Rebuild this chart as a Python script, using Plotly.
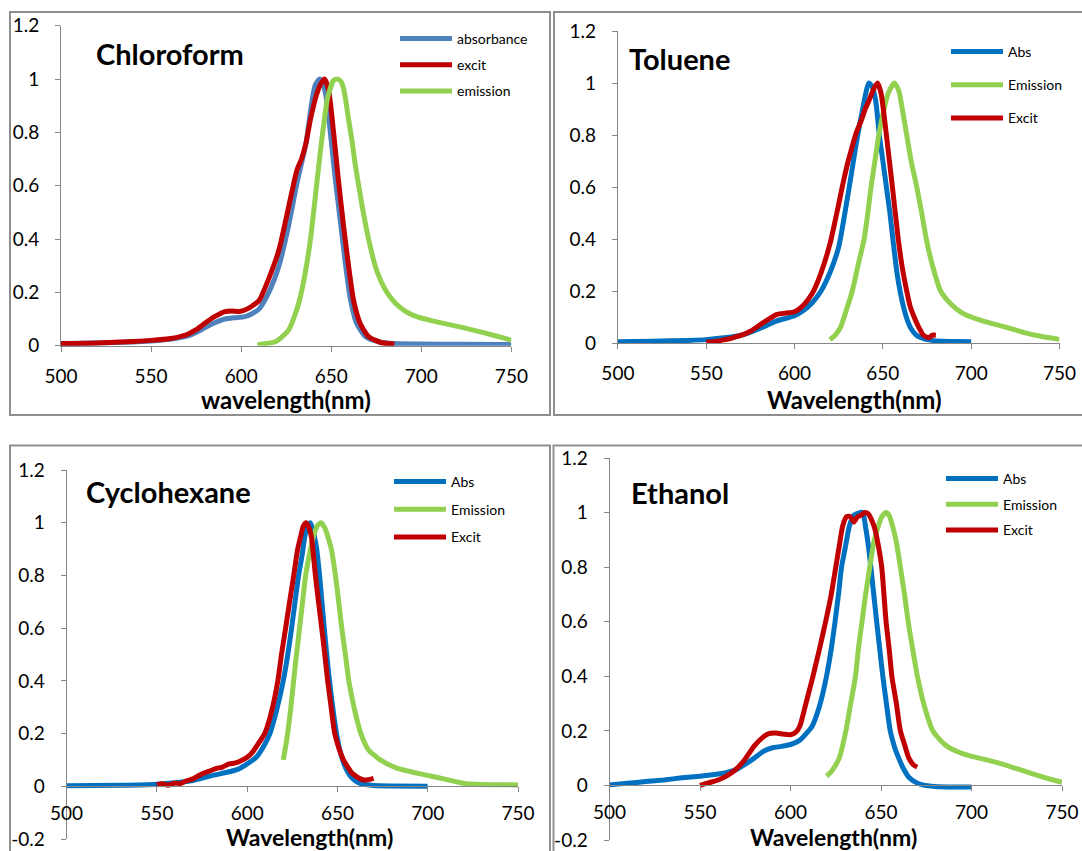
import plotly.graph_objects as go

# ---------------- Chloroform ----------------
chcl3_abs_nm = [500, 520, 540, 550, 560, 570, 575, 580, 585, 591, 596, 602, 606, 610, 615, 621, 626, 631, 636,
                638.5, 641, 643.5, 645, 647, 649.5, 652, 655, 658, 660.5, 664, 669, 676, 685, 700, 720, 750]
chcl3_abs = [0.008, 0.01, 0.014, 0.018, 0.024, 0.036, 0.05, 0.068, 0.085, 0.10, 0.105, 0.109, 0.12, 0.138, 0.195,
             0.30, 0.44, 0.61, 0.76, 0.88, 0.975, 1.0, 0.99, 0.94, 0.80, 0.64, 0.47, 0.30, 0.18, 0.085, 0.034,
             0.015, 0.008, 0.006, 0.005, 0.004]

chcl3_exc_nm = [500, 520, 540, 550, 560, 570, 575, 580, 585, 591, 595, 599, 604, 610, 615, 621, 626, 631, 633.5,
                636, 638.5, 642, 644.5, 646.3, 648.5, 651.3, 654, 657, 659.6, 662.4, 666, 670.7, 678, 685]
chcl3_exc = [0.008, 0.01, 0.016, 0.02, 0.026, 0.042, 0.06, 0.085, 0.108, 0.128, 0.13, 0.128, 0.14, 0.17, 0.246,
             0.36, 0.51, 0.66, 0.70, 0.76, 0.85, 0.945, 0.985, 1.0, 0.96, 0.80, 0.62, 0.44, 0.30, 0.17, 0.084,
             0.034, 0.011, 0.006]

chcl3_em_nm = [609, 614, 619, 623, 626.5, 629, 632, 634.5, 636.5, 638.5, 640.2, 642, 644, 646, 648, 651.3, 653.5,
               655.5, 657, 659.6, 661.5, 663.3, 667, 670.7, 675.3, 680, 685.5, 691, 697, 705, 715, 725, 735, 745,
               750]
chcl3_em = [0.003, 0.008, 0.015, 0.035, 0.06, 0.1, 0.16, 0.235, 0.31, 0.4, 0.5, 0.61, 0.73, 0.84, 0.93, 0.995, 1.0,
            0.99, 0.96, 0.85, 0.77, 0.68, 0.53, 0.40, 0.28, 0.21, 0.16, 0.13, 0.11, 0.095, 0.08, 0.065, 0.048,
            0.03, 0.02]

# ---------------- Toluene ----------------
tol_abs_nm = [500, 520, 540, 550, 560, 570, 580, 590, 600, 605, 610, 615, 620, 625, 630, 635, 638, 640, 642, 644,
              646, 648, 650, 652, 654, 656, 658, 660, 662, 664, 666, 669, 672, 676, 680, 690, 700]
tol_abs = [0.005, 0.007, 0.01, 0.013, 0.02, 0.03, 0.055, 0.085, 0.105, 0.125, 0.155, 0.2, 0.27, 0.37, 0.56, 0.77,
           0.88, 0.95, 1.0, 0.985, 0.93, 0.80, 0.70, 0.6, 0.5, 0.38, 0.27, 0.19, 0.13, 0.085, 0.055, 0.03, 0.02,
           0.012, 0.008, 0.006, 0.005]

tol_em_nm = [620, 623, 626, 629, 632.7, 636, 639.4, 641.5, 643.3, 645.5, 647.7, 650, 653, 656.5, 659, 661, 663.5,
             666, 669.2, 672, 674.6, 678, 682.7, 688.5, 695, 700, 710, 720, 730, 740, 750]
tol_em = [0.013, 0.03, 0.06, 0.12, 0.2, 0.3, 0.4, 0.5, 0.6, 0.7, 0.8, 0.88, 0.96, 1.0, 0.97, 0.9, 0.8, 0.7, 0.6,
          0.5, 0.4, 0.3, 0.2, 0.15, 0.115, 0.1, 0.078, 0.06, 0.04, 0.025, 0.014]

tol_exc_nm = [550, 555, 560, 565, 570, 575, 580, 585, 590, 595, 600, 605, 610, 615, 620, 623, 627, 630, 632, 635,
              638, 640, 642, 645, 647, 649, 652, 655.4, 658.7, 661, 663.5, 665.5, 667.7, 670, 673, 676, 678, 680]
tol_exc = [0.003, 0.006, 0.012, 0.02, 0.03, 0.045, 0.068, 0.09, 0.11, 0.115, 0.12, 0.145, 0.19, 0.27, 0.38, 0.47,
           0.6, 0.69, 0.74, 0.81, 0.86, 0.9, 0.93, 0.98, 1.0, 0.96, 0.8, 0.6, 0.4, 0.29, 0.2, 0.14, 0.1, 0.065,
           0.03, 0.02, 0.03, 0.03]

# ---------------- Cyclohexane ----------------
chx_abs_nm = [500, 530, 550, 570, 580, 590, 595, 600, 605, 609, 612.6, 616, 620, 622.5, 624.6, 626.5, 628.5, 630.5,
              632, 633.5, 635, 636.5, 638.5, 640.1, 642.7, 645.6, 649.5, 652, 654.5, 657, 660, 663, 670, 680, 700]
chx_abs = [0.002, 0.004, 0.008, 0.022, 0.04, 0.055, 0.065, 0.085, 0.11, 0.15, 0.2, 0.28, 0.4, 0.5, 0.6, 0.7, 0.8,
           0.88, 0.95, 0.985, 1.0, 0.97, 0.9, 0.8, 0.6, 0.4, 0.2, 0.12, 0.07, 0.04, 0.02, 0.01, 0.003, 0.001, 0.0]

chx_em_nm = [620, 622, 624.2, 626.5, 629, 630.7, 632.4, 634.5, 636.8, 639, 641, 643, 645, 646.6, 648.9, 650.7,
             652.4, 654.4, 656.3, 659.5, 663, 667, 673.7, 682.5, 694, 707.7, 721, 730, 740, 750]
chx_em = [0.1, 0.18, 0.3, 0.45, 0.6, 0.7, 0.8, 0.88, 0.95, 0.99, 1.0, 0.98, 0.94, 0.9, 0.8, 0.7, 0.6, 0.5, 0.4,
          0.29, 0.2, 0.14, 0.1, 0.07, 0.05, 0.03, 0.01, 0.007, 0.006, 0.005]

chx_exc_nm = [550, 553, 556, 560, 563, 566, 570, 573, 576, 580, 583, 586, 590, 593, 596, 600, 603, 606, 609.7, 613,
              617, 619, 621.3, 623.5, 625.8, 628, 629.7, 631, 632.6, 634, 635.5, 637.8, 639.5, 641.3, 643, 644.6,
              646.5, 648.5, 651, 653.3, 656, 658, 661, 664, 667, 670]
chx_exc = [0.005, 0.01, 0.004, 0.012, 0.01, 0.02, 0.028, 0.04, 0.05, 0.06, 0.068, 0.072, 0.085, 0.088, 0.095, 0.11,
           0.13, 0.16, 0.2, 0.27, 0.4, 0.5, 0.6, 0.7, 0.8, 0.9, 0.95, 0.985, 1.0, 0.985, 0.95, 0.8, 0.7, 0.6, 0.5,
           0.4, 0.3, 0.2, 0.14, 0.1, 0.07, 0.05, 0.035, 0.025, 0.025, 0.03]

# ---------------- Ethanol ----------------
eth_abs_nm = [500, 510, 520, 530, 540, 550, 560, 565, 570, 575, 580, 585, 590, 595, 600, 605, 608, 611.8, 616,
              619.9, 622.5, 624.6, 626.5, 628.2, 630.5, 632.5, 635, 638.2, 640, 641.4, 643, 644.4, 646, 647.6,
              649.3, 651, 653, 655.1, 657.5, 659.8, 662.5, 665.4, 669, 673, 680, 690, 700]
eth_abs = [0.002, 0.008, 0.014, 0.02, 0.028, 0.034, 0.042, 0.048, 0.058, 0.078, 0.1, 0.125, 0.138, 0.143, 0.15,
           0.165, 0.185, 0.215, 0.29, 0.4, 0.5, 0.6, 0.7, 0.8, 0.88, 0.95, 0.99, 1.0, 1.0, 0.95, 0.88, 0.8, 0.7,
           0.6, 0.5, 0.4, 0.3, 0.2, 0.14, 0.1, 0.06, 0.03, 0.012, 0.002, -0.004, -0.006, -0.006]

eth_em_nm = [620, 623, 626.9, 630.6, 633, 635.9, 637.5, 639.5, 641.5, 643.8, 646, 648.5, 650.5, 652.8, 654.5,
             656.4, 658.5, 660.7, 663, 665, 667.5, 670.1, 674, 678.6, 685.2, 691.7, 699.2, 710.5, 718, 729.3,
             738.7, 745, 750]
eth_em = [0.034, 0.055, 0.1, 0.2, 0.29, 0.4, 0.5, 0.6, 0.7, 0.8, 0.89, 0.95, 0.985, 1.0, 0.99, 0.95, 0.89, 0.8,
          0.7, 0.6, 0.5, 0.4, 0.29, 0.2, 0.15, 0.125, 0.108, 0.09, 0.076, 0.052, 0.032, 0.02, 0.012]

eth_exc_nm = [550, 555, 560, 565, 570, 575, 580, 585, 588, 592, 596, 600, 603, 605.3, 608.5, 612.4, 616, 619.4,
              622.5, 625, 627, 628.8, 631, 633, 635, 637, 639, 641, 643, 645, 646.6, 648.5, 650.4, 652.8, 654.5,
              656, 658.5, 660.7, 663, 665.4, 668, 670]
eth_exc = [0.0, 0.01, 0.02, 0.036, 0.06, 0.097, 0.145, 0.178, 0.19, 0.192, 0.188, 0.186, 0.195, 0.22, 0.3, 0.4,
           0.5, 0.6, 0.7, 0.8, 0.88, 0.95, 0.985, 0.985, 0.965, 0.985, 0.99, 1.0, 0.995, 0.97, 0.94, 0.88, 0.8,
           0.6, 0.5, 0.4, 0.3, 0.2, 0.15, 0.1, 0.075, 0.067]

# ---------------- axis ticks ----------------
x_ticks = [500, 550, 600, 650, 700, 750]
y_ticks_top = [0, 0.2, 0.4, 0.6, 0.8, 1.0, 1.2]
y_labels_top = ["0", "0.2", "0.4", "0.6", "0.8", "1", "1.2"]
y_ticks_bottom = [-0.2, 0, 0.2, 0.4, 0.6, 0.8, 1.0, 1.2]
y_labels_bottom = ["-0.2", "0", "0.2", "0.4", "0.6", "0.8", "1", "1.2"]

BLUE = "#0070C0"
BLUE_SOFT = "#4F81BD"
RED = "#C00000"
GREEN = "#92D050"
AXIS_GREY = "#868686"
FONT = "Lato, 'Open Sans', sans-serif"

W, H = 1082, 851


def fx(px):
    return px / W


def fy(px):
    return 1 - px / H


panels = [
    dict(title="Chloroform", xtitle="wavelength(nm)", ax="", legend="legend",
         series=[("absorbance", chcl3_abs_nm, chcl3_abs, BLUE_SOFT),
                 ("excit", chcl3_exc_nm, chcl3_exc, RED),
                 ("emission", chcl3_em_nm, chcl3_em, GREEN)],
         xdom=(61.0, 511.4), ydom=(345.7, 25.7), yr=(0, 1.2), zero_px=None,
         box=(10, 12, 550, 415), title_pos=(94, 53), xtitle_pos=(286, 399), xtitle_size=24,
         leg_pos=(395, 23), leg_gap=5, xlab_off=8),
    dict(title="Toluene", xtitle="Wavelength(nm)", ax="2", legend="legend2",
         series=[("Abs", tol_abs_nm, tol_abs, BLUE),
                 ("Emission", tol_em_nm, tol_em, GREEN),
                 ("Excit", tol_exc_nm, tol_exc, RED)],
         xdom=(617.9, 1059.5), ydom=(343.0, 31.0), yr=(0, 1.2), zero_px=None,
         box=(554, 12, 1090, 415), title_pos=(627, 58), xtitle_pos=(854, 399), xtitle_size=24,
         leg_pos=(946, 36), leg_gap=12, xlab_off=8),
    dict(title="Cyclohexane", xtitle="Wavelength(nm)", ax="3", legend="legend3",
         series=[("Abs", chx_abs_nm, chx_abs, BLUE),
                 ("Emission", chx_em_nm, chx_em, GREEN),
                 ("Excit", chx_exc_nm, chx_exc, RED)],
         xdom=(66.6, 518.0), ydom=(839.0, 470.0), yr=(-0.2, 1.2), zero_px=786.4,
         box=(10, 445.5, 550, 870), title_pos=(84, 491), xtitle_pos=(309, 836.5), xtitle_size=23,
         leg_pos=(389, 466), leg_gap=6.5, xlab_off=5),
    dict(title="Ethanol", xtitle="Wavelength(nm)", ax="4", legend="legend4",
         series=[("Abs", eth_abs_nm, eth_abs, BLUE),
                 ("Emission", eth_em_nm, eth_em, GREEN),
                 ("Excit", eth_exc_nm, eth_exc, RED)],
         xdom=(609.5, 1062.0), ydom=(840.0, 458.0), yr=(-0.2, 1.2), zero_px=785.4,
         box=(553.5, 445.5, 1090, 870), title_pos=(629, 492), xtitle_pos=(833, 836.5), xtitle_size=23,
         leg_pos=(941, 463), leg_gap=4.5, xlab_off=5),
]

fig = go.Figure()
layout = dict(
    template="none",
    width=W, height=H,
    margin=dict(l=0, r=0, t=0, b=0, autoexpand=False),
    paper_bgcolor="white", plot_bgcolor="white",
    font=dict(family=FONT, color="black"),
    shapes=[], annotations=[],
)

for i, p in enumerate(panels):
    xa, ya = "x" + p["ax"], "y" + p["ax"]
    for name, xs, ys, color in p["series"]:
        fig.add_trace(go.Scatter(
            x=xs, y=ys, name=name, mode="lines",
            line=dict(color=color, width=5, shape="spline", smoothing=0.6),
            xaxis=xa, yaxis=ya, legend=p["legend"], legendgroup=f"{p['legend']}-{name}",
        ))

    bottom = p["yr"][0] < 0
    xaxis = dict(
        domain=[fx(p["xdom"][0]), fx(p["xdom"][1])], range=[500, 750],
        tickvals=x_ticks, ticks="outside", ticklen=5, tickcolor=AXIS_GREY, tickwidth=1,
        showline=True, linecolor=AXIS_GREY, linewidth=1, showgrid=False, zeroline=False,
        tickfont=dict(size=19, family=FONT, color="black"), ticklabelstandoff=p["xlab_off"],
        automargin=False, fixedrange=True,
    )
    if p["zero_px"] is not None:
        xaxis.update(anchor="free", position=fy(p["zero_px"]))
    else:
        xaxis.update(anchor=ya)
    yaxis = dict(
        domain=[fy(p["ydom"][0]), fy(p["ydom"][1])], range=list(p["yr"]), anchor=xa,
        tickvals=y_ticks_bottom if bottom else y_ticks_top,
        ticktext=y_labels_bottom if bottom else y_labels_top,
        ticks="outside", ticklen=5, tickcolor=AXIS_GREY, tickwidth=1,
        showline=True, linecolor=AXIS_GREY, linewidth=1, showgrid=False, zeroline=False,
        tickfont=dict(size=19, family=FONT, color="black"), ticklabelstandoff=12,
        automargin=False, fixedrange=True,
    )
    layout["xaxis" + p["ax"]] = xaxis
    layout["yaxis" + p["ax"]] = yaxis

    layout[p["legend"]] = dict(
        x=fx(p["leg_pos"][0]), y=fy(p["leg_pos"][1]), xanchor="left", yanchor="top",
        bgcolor="rgba(0,0,0,0)", borderwidth=0, font=dict(size=14, family=FONT, color="black"),
        traceorder="grouped", tracegroupgap=p["leg_gap"], itemwidth=52,
    )

    x0, y0, x1, y1 = p["box"]
    layout["shapes"].append(dict(
        type="rect", xref="paper", yref="paper", x0=fx(x0), x1=fx(x1), y0=fy(y1), y1=fy(y0),
        line=dict(color="#8f8f8f", width=2), fillcolor="rgba(0,0,0,0)", layer="below",
    ))
    layout["annotations"].append(dict(
        text=p["title"], xref="paper", yref="paper", x=fx(p["title_pos"][0]), y=fy(p["title_pos"][1]),
        xanchor="left", yanchor="middle", showarrow=False,
        font=dict(size=29, family=FONT, color="black", weight="bold"),
    ))
    layout["annotations"].append(dict(
        text=p["xtitle"], xref="paper", yref="paper", x=fx(p["xtitle_pos"][0]), y=fy(p["xtitle_pos"][1]),
        xanchor="center", yanchor="middle", showarrow=False,
        font=dict(size=p["xtitle_size"], family=FONT, color="black", weight="bold"),
    ))

fig.update_layout(**layout)
fig.write_html("out.html")
